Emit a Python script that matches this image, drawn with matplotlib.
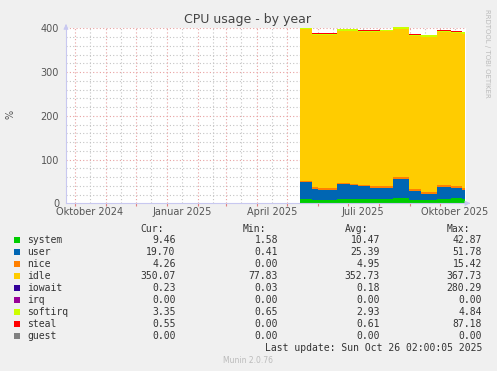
import matplotlib
matplotlib.use("Agg")
import matplotlib.pyplot as plt
import numpy as np
import pandas as pd

# ---------------- data ----------------
start_date = "2024-09-22"
end_date = "2025-10-27 02:00"
day_offsets = [234, 246, 252, 257, 271, 284, 292, 304, 314, 327, 343, 355, 371, 385, 396, 399.5]
system  = [10, 8, 8, 8, 9, 9, 9, 9, 9, 13, 7.5, 7.5, 10, 12, 10, 10]
user    = [39, 24, 22, 23, 34, 33, 30, 27, 27, 42, 21, 13, 28, 24, 21, 21]
nice    = [3, 4.5, 5, 5, 3, 3, 3, 3.5, 4, 4, 4, 6, 4, 4, 4, 4]
idle    = [345.8, 347.8, 350.3, 349.3, 348.3, 349.3, 348.8, 351.3, 353.0, 340.3,
           349.3, 353.0, 348.8, 349.3, 352.7, 352.7]
iowait  = [0.2, 0.2, 0.2, 0.2, 0.2, 0.2, 0.2, 0.2, 0.2, 0.2, 0.2, 1.5, 0.2, 0.2, 0.2, 0.2]
irq     = [0.0] * 16
softirq = [3, 2.5, 2.5, 2.5, 3, 3, 3, 3, 3.5, 3, 3, 3.5, 3, 3, 3.5, 3.5]
steal   = [0.0, 2, 2, 2, 1.5, 1.5, 2, 2, 0.3, 0.5, 2, 0.5, 2, 1.5, 0.6, 0.6]
guest   = [0.0] * 16

names = ["system", "user", "nice", "idle", "iowait", "irq", "softirq", "steal", "guest"]
colors = ["#00CC00", "#0066B3", "#FF8000", "#FFCC00", "#330099", "#990099",
          "#CCFF00", "#FF0000", "#808080"]
cur = ["9.46", "19.70", "4.26", "350.07", "0.23", "0.00", "3.35", "0.55", "0.00"]
mins = ["1.58", "0.41", "0.00", "77.83", "0.03", "0.00", "0.65", "0.00", "0.00"]
avgs = ["10.47", "25.39", "4.95", "352.73", "0.18", "0.00", "2.93", "0.61", "0.00"]
maxs = ["42.87", "51.78", "15.42", "367.73", "280.29", "0.00", "4.84", "87.18", "0.00"]

month_labels = ["Oktober 2024", "Januar 2025", "April 2025", "Juli 2025", "Oktober 2025"]
label_dates = ["2024-10-16", "2025-01-16", "2025-04-16", "2025-07-16", "2025-10-16"]
yticks = [0, 100, 200, 300, 400]

# ---------------- figure ----------------
W, H = 497, 371
fig = plt.figure(figsize=(W / 100, H / 100), dpi=100)
fig.patch.set_facecolor("#F0F0F0")

def fx(px):
    return px / W

def fy(py):
    return 1 - py / H

L, R, T, B = 66, 466, 28.3, 203.3
ax = fig.add_axes([fx(L), fy(B), fx(R) - fx(L), fy(T) - fy(B)])
ax.set_facecolor("white")

t0 = pd.Timestamp(start_date)
xs = [t0 + pd.Timedelta(days=d) for d in day_offsets]
xnum = matplotlib.dates.date2num(xs)

series = [system, user, nice, idle, iowait, irq, softirq, steal, guest]
base = np.zeros(len(xnum))
for vals, c in zip(series, colors):
    top = base + np.array(vals)
    if np.any(np.array(vals) > 0):
        ax.fill_between(xnum, base, top, step="post", color=c, linewidth=0,
                        clip_on=False, zorder=3)
    base = top

x0 = matplotlib.dates.date2num(t0)
x1 = matplotlib.dates.date2num(pd.Timestamp(end_date))
ax.set_xlim(x0, x1)
ax.set_ylim(0, 400)

# grid
major_col = "#E8A0A0"
minor_col = "#C4C4C4"
for yv in range(20, 401, 20):
    col = major_col if yv % 100 == 0 else minor_col
    ax.axhline(yv, color=col, lw=0.8, ls=(0, (1, 2)), zorder=1)
month_starts = pd.date_range("2024-10-01", "2025-10-01", freq="MS")
mid_months = [pd.Timestamp(d.year, d.month, 16) for d in month_starts]
for d in mid_months:
    ax.axvline(matplotlib.dates.date2num(d), color=minor_col, lw=0.8, ls=(0, (1, 2)), zorder=1)
for d in month_starts:
    ax.axvline(matplotlib.dates.date2num(d), color=major_col, lw=0.8, ls=(0, (1, 2)), zorder=1)

# spines
for s in ["top", "right"]:
    ax.spines[s].set_visible(False)
axis_col = "#C8C8F0"
ax.spines["left"].set_color(axis_col)
ax.spines["bottom"].set_color(axis_col)
ax.spines["left"].set_zorder(4)
ax.spines["bottom"].set_zorder(4)

# ticks
ax.set_yticks(yticks)
ax.set_yticklabels([str(v) for v in yticks], fontsize=7, color="#555555")
ax.tick_params(axis="y", length=0, pad=5)
ax.set_xticks(matplotlib.dates.date2num(month_starts))
ax.set_xticklabels([])
ax.tick_params(axis="x", which="major", length=2, color="#E08080", direction="out")
ax.set_xticks(matplotlib.dates.date2num([pd.Timestamp(d) for d in label_dates]), minor=True)
ax.set_xticklabels(month_labels, minor=True, fontsize=7, color="#555555")
ax.tick_params(axis="x", which="minor", length=0, pad=3)

# arrows
ax.annotate("", xy=(fx(R + 7), fy(B)), xytext=(fx(R), fy(B)), xycoords="figure fraction",
            arrowprops=dict(arrowstyle="-|>", color=axis_col, lw=0.8, mutation_scale=7))
ax.annotate("", xy=(fx(L), fy(T - 7)), xytext=(fx(L), fy(T)), xycoords="figure fraction",
            arrowprops=dict(arrowstyle="-|>", color=axis_col, lw=0.8, mutation_scale=7))

# title, labels
fig.text(fx(248), fy(19), "CPU usage - by year", ha="center", va="center",
         fontsize=9, color="#444444")
fig.text(fx(11), fy(114), "%", ha="center", va="center", rotation=90,
         fontsize=7, color="#555555")
fig.text(fx(487), fy(53), "RRDTOOL / TOBI OETIKER", ha="center", va="center",
         rotation=270, fontsize=5, color="#BBBBBB")

# legend table
mono = "DejaVu Sans Mono"
tcol = "#333333"
col_right = [175.7, 278, 380, 482]
headers = ["Cur:", "Min:", "Avg:", "Max:"]
for h, xr in zip(headers, col_right):
    fig.text(fx(xr - 12), fy(228.5), h, ha="right", va="center", family=mono,
             fontsize=7, color=tcol)
for i, (n, c) in enumerate(zip(names, colors)):
    yc = 239.7 + 12 * i
    fig.patches.append(matplotlib.patches.Rectangle((fx(14), fy(yc + 3)), fx(6), 6 / H,
                                                    transform=fig.transFigure,
                                                    facecolor=c, edgecolor="none"))
    fig.text(fx(27), fy(yc), n, ha="left", va="center", family=mono, fontsize=7, color=tcol)
    for vals, xr in zip([cur, mins, avgs, maxs], col_right):
        fig.text(fx(xr), fy(yc), vals[i], ha="right", va="center", family=mono,
                 fontsize=7, color=tcol)
fig.text(fx(482), fy(347.7), "Last update: Sun Oct 26 02:00:05 2025", ha="right",
         va="center", family=mono, fontsize=7, color=tcol)
fig.text(fx(248), fy(360.3), "Munin 2.0.76", ha="center", va="center",
         fontsize=5.5, color="#BBBBBB")

fig.savefig("out.png", dpi=100, facecolor=fig.get_facecolor())
